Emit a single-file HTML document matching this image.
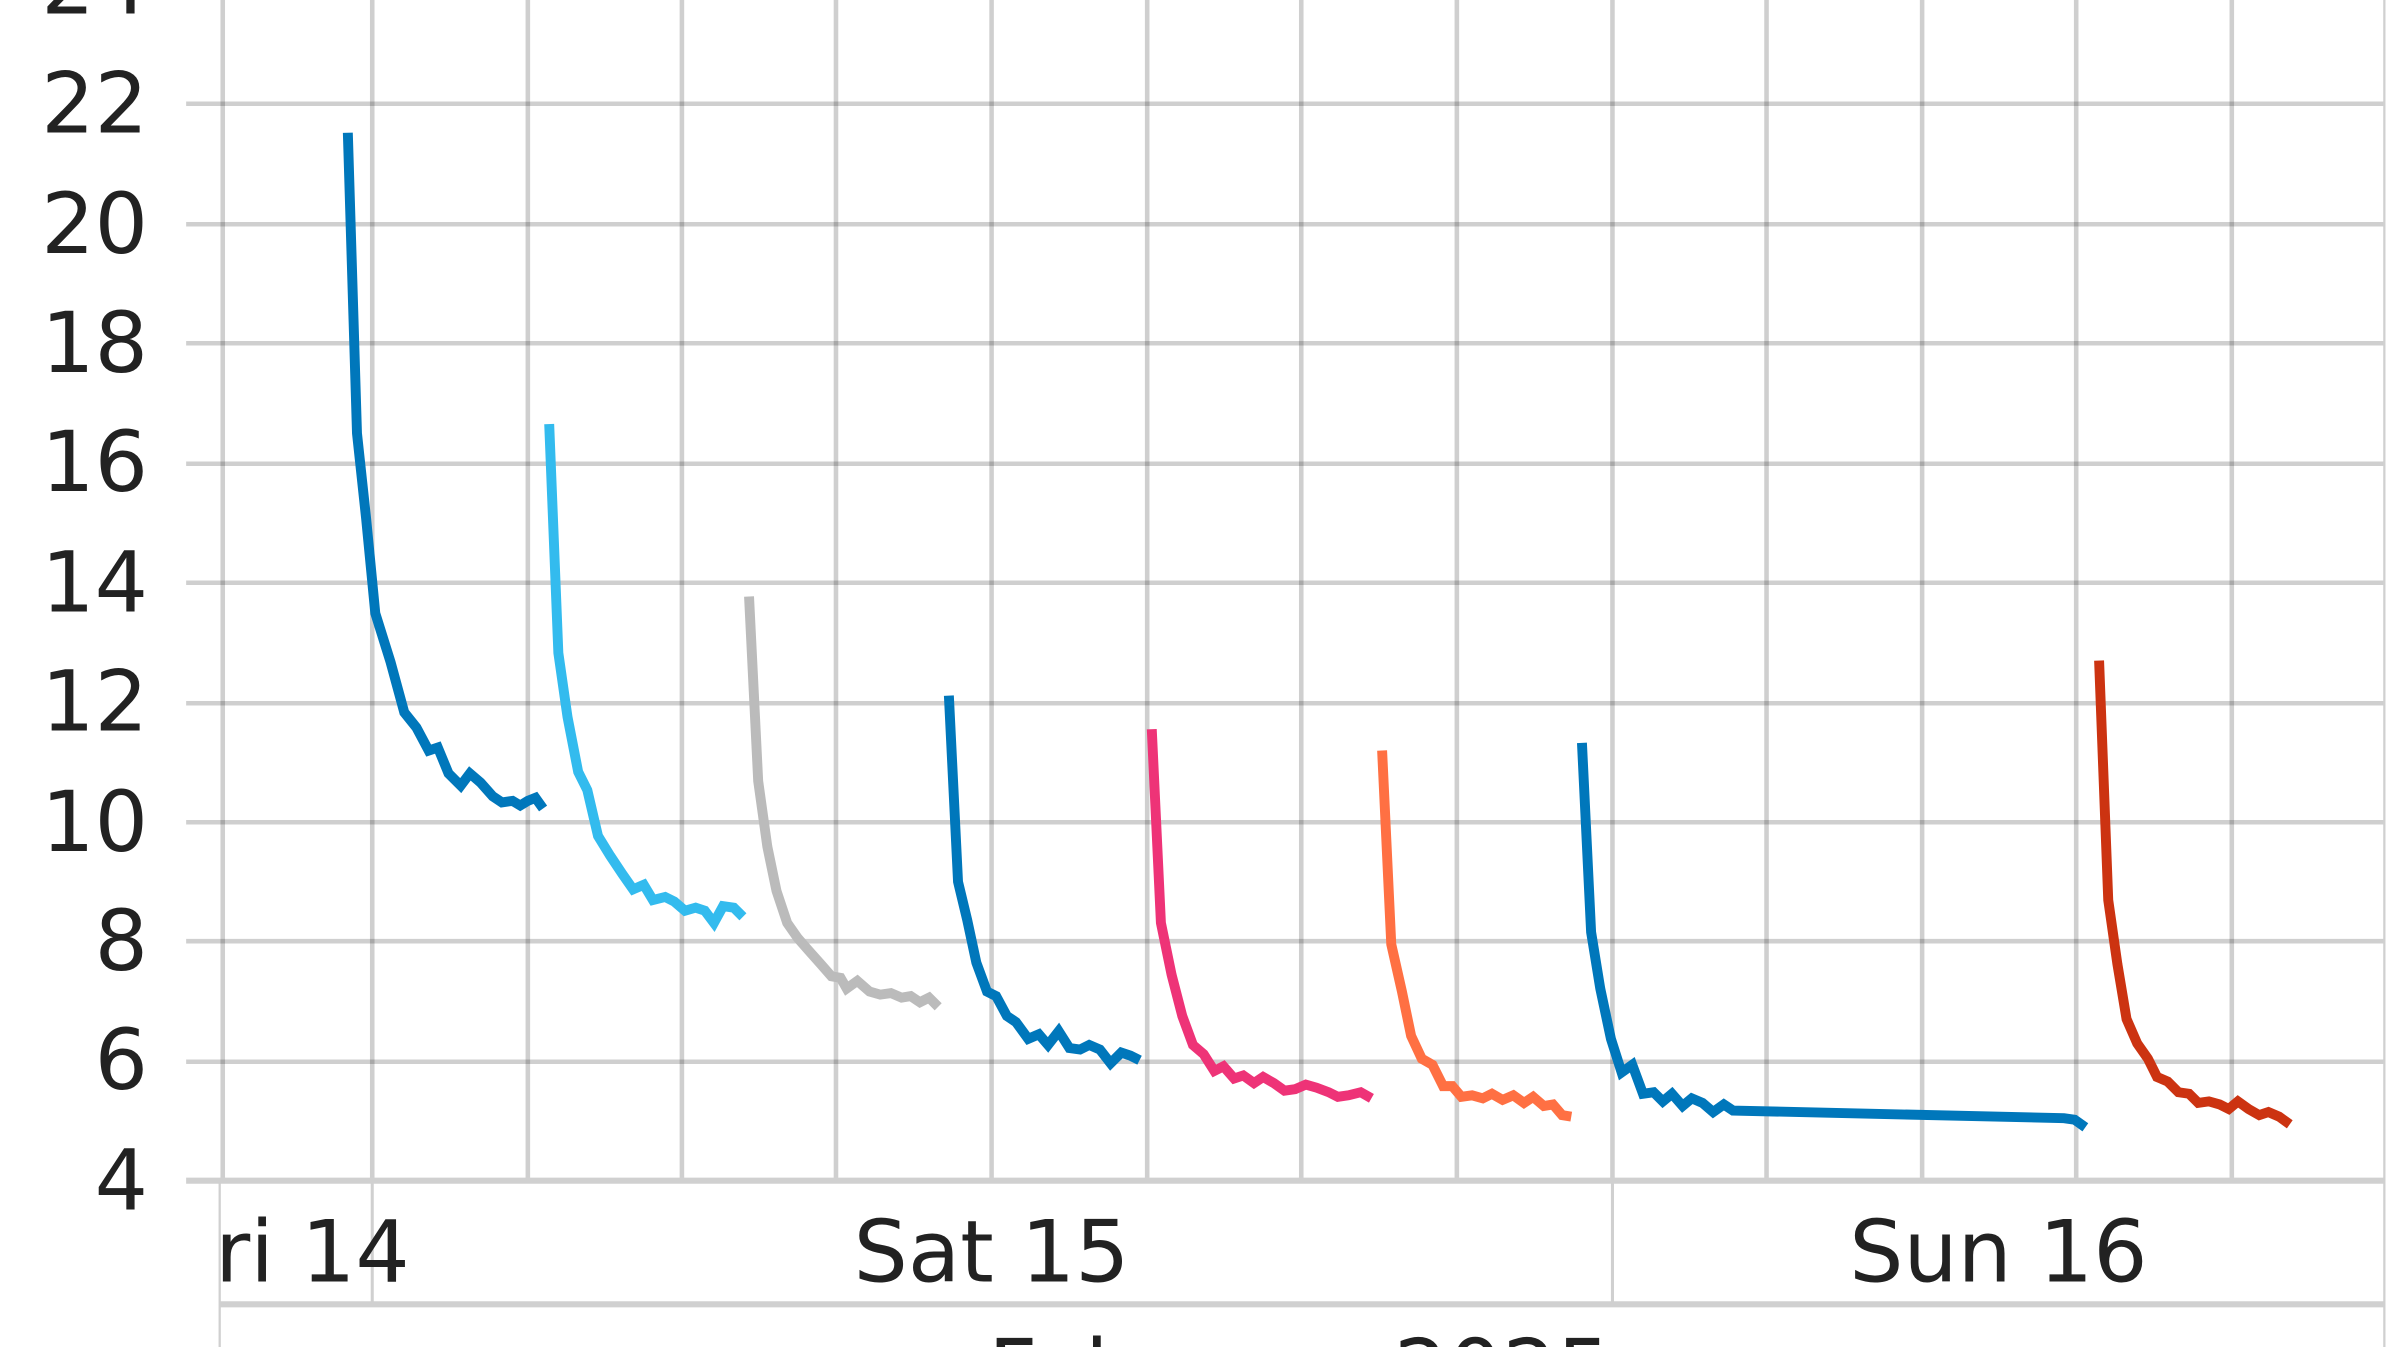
<!DOCTYPE html>
<html><head><meta charset="utf-8"><style>
html,body{margin:0;padding:0;background:#fff;overflow:hidden;width:2392px;height:1347px}
svg{display:block;overflow:hidden}
text{font-family:"DejaVu Sans","Liberation Sans",sans-serif;fill:#222}
</style></head><body>
<svg width="2392" height="1347" viewBox="0 0 1568 883" xmlns="http://www.w3.org/2000/svg">
<g stroke="rgba(0,0,0,0.19)" stroke-width="3">
<line x1="146" y1="0" x2="146" y2="774"/><line x1="244" y1="0" x2="244" y2="774"/><line x1="346" y1="0" x2="346" y2="774"/><line x1="447" y1="0" x2="447" y2="774"/><line x1="548" y1="0" x2="548" y2="774"/><line x1="650" y1="0" x2="650" y2="774"/><line x1="752" y1="0" x2="752" y2="774"/><line x1="853" y1="0" x2="853" y2="774"/><line x1="955" y1="0" x2="955" y2="774"/><line x1="1057" y1="0" x2="1057" y2="774"/><line x1="1158" y1="0" x2="1158" y2="774"/><line x1="1260" y1="0" x2="1260" y2="774"/><line x1="1361" y1="0" x2="1361" y2="774"/><line x1="1463" y1="0" x2="1463" y2="774"/>
<line x1="122" y1="68" x2="1563" y2="68"/><line x1="122" y1="147" x2="1563" y2="147"/><line x1="122" y1="225" x2="1563" y2="225"/><line x1="122" y1="304" x2="1563" y2="304"/><line x1="122" y1="382" x2="1563" y2="382"/><line x1="122" y1="461" x2="1563" y2="461"/><line x1="122" y1="539" x2="1563" y2="539"/><line x1="122" y1="617" x2="1563" y2="617"/><line x1="122" y1="696" x2="1563" y2="696"/>
</g>
<g stroke="#d0d0d0">
<line x1="122" y1="774" x2="1563" y2="774" stroke-width="4"/>
<line x1="1563" y1="0" x2="1563" y2="883" stroke-width="1.5"/>
<line x1="144" y1="774" x2="144" y2="883" stroke-width="1.5"/>
<line x1="244" y1="774" x2="244" y2="855" stroke-width="2"/>
<line x1="1057" y1="774" x2="1057" y2="855" stroke-width="2"/>
<line x1="144" y1="855" x2="1563" y2="855" stroke-width="4"/>
</g>
<g font-size="55" text-anchor="end">
<text x="97" y="9">24</text><text x="97" y="87">22</text><text x="97" y="166">20</text><text x="97" y="244">18</text><text x="97" y="322">16</text><text x="97" y="401">14</text><text x="97" y="479">12</text><text x="97" y="558">10</text><text x="97" y="636">8</text><text x="97" y="714">6</text><text x="97" y="793">4</text>
</g>
<g font-size="56">
<text x="141" y="840">ri 14</text>
<text x="650" y="840" text-anchor="middle">Sat 15</text>
<text x="1310" y="840" text-anchor="middle">Sun 16</text>
<text x="852" y="918" text-anchor="middle">February 2025</text>
</g>
<g fill="none" stroke-width="6.5" stroke-linejoin="miter">
<polyline stroke="#0077bb" points="228,87 234,284 240,340 246,402 256,434 265,467 273,477 281,492 287,490 294,507 302,515 308,507 315,513 323,522 329,526 336,525 341,528 346,525 351,523 356,530"/>
<polyline stroke="#33bbee" points="360,278 366,428 372,470 379,506 385,518 392,548 400,561 408,573 415,583 422,580 428,590 436,588 442,591 449,597 456,595 462,597 468,605 474,594 481,595 487,601"/>
<polyline stroke="#bbbbbb" points="491,391 497,512 503,555 509,584 516,605 523,615 530,623 538,632 545,640 551,641 555,648 562,643 570,650 577,652 584,651 591,654 597,653 603,657 609,654 615,660"/>
<polyline stroke="#0077bb" points="622,456 628,578 634,603 640,631 647,650 653,653 660,666 666,670 674,681 681,678 687,685 694,676 701,687 708,688 714,685 721,688 728,697 735,690 741,692 747,695"/>
<polyline stroke="#ee3377" points="755,478 761,605 768,639 775,666 782,685 789,691 796,702 802,699 809,707 815,705 822,710 828,706 835,710 842,715 849,714 856,711 863,713 871,716 877,719 884,718 892,716 899,720"/>
<polyline stroke="#ff7043" points="906,492 912,619 919,650 925,679 932,694 939,698 946,712 952,712 958,719 965,718 972,720 978,717 985,721 992,718 999,723 1005,719 1012,725 1018,724 1024,731 1030,732"/>
<polyline stroke="#0077bb" points="1037,487 1043,611 1049,648 1056,681 1063,703 1070,698 1077,717 1084,716 1090,722 1096,717 1103,725 1109,720 1116,723 1123,729 1130,724 1136,728 1353,733 1360,734 1367,739"/>
<polyline stroke="#cc3311" points="1376,433 1382,590 1388,632 1394,668 1401,684 1408,694 1414,706 1421,709 1428,716 1435,717 1441,723 1448,722 1455,724 1461,727 1467,722 1474,727 1481,731 1487,729 1494,732 1501,737"/>
</g>
</svg>
</body></html>
